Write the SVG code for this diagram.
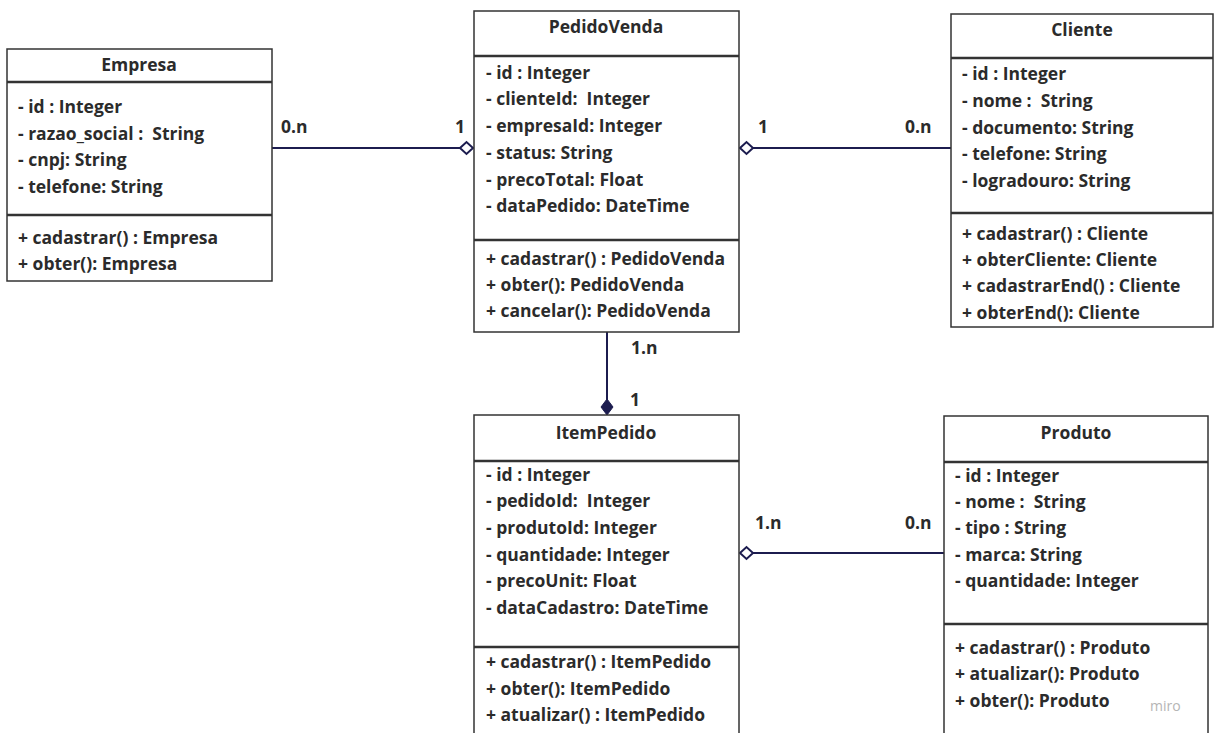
<svg xmlns="http://www.w3.org/2000/svg" width="1215" height="733" viewBox="0 0 1215 733">
<style>
.box{fill:#fff;stroke:#333;stroke-width:1.5}
.div{stroke:#333;stroke-width:2.5}
.t{font-family:"Open Sans","Liberation Sans",sans-serif;font-weight:700;font-size:17.5px;fill:#2b2b2b;white-space:pre}
.title{text-anchor:middle}
.conn{stroke:#1c1c4f;stroke-width:2;fill:none}
.hd{fill:#fff;stroke:#1c1c4f;stroke-width:2}
.fd{fill:#1c1c4f;stroke:#1c1c4f;stroke-width:1}
</style>
<rect width="1215" height="733" fill="#fff"/>
<g id="connectors">
<line class="conn" x1="272" y1="148" x2="460" y2="148"/>
<path class="hd" d="M460 148 L466.5 142 L473 148 L466.5 154 Z"/>
<line class="conn" x1="753" y1="148" x2="951" y2="148"/>
<path class="hd" d="M740 148 L746.5 142 L753 148 L746.5 154 Z"/>
<line class="conn" x1="607" y1="332" x2="607" y2="400"/>
<path class="fd" d="M607 399 L613 407 L607 415 L601 407 Z"/>
<line class="conn" x1="753" y1="553" x2="944" y2="553"/>
<path class="hd" d="M740 553 L746.5 547 L753 553 L746.5 559 Z"/>
<text class="t" x="281" y="133">0.n</text>
<text class="t" x="455" y="133">1</text>
<text class="t" x="758" y="133">1</text>
<text class="t" x="905" y="133">0.n</text>
<text class="t" x="631" y="354">1.n</text>
<text class="t" x="630" y="406">1</text>
<text class="t" x="755" y="529">1.n</text>
<text class="t" x="905" y="529">0.n</text>
</g>
<g id="Empresa">
<rect class="box" x="7" y="49" width="265" height="232"/>
<line class="div" x1="7" y1="82" x2="272" y2="82"/>
<line class="div" x1="7" y1="215" x2="272" y2="215"/>
<text class="t title" x="139" y="71">Empresa</text>
<text class="t" x="18" y="113">- id : Integer</text>
<text class="t" x="18" y="140">- razao_social :  String</text>
<text class="t" x="18" y="166">- cnpj: String</text>
<text class="t" x="18" y="193">- telefone: String</text>
<text class="t" x="18" y="244">+ cadastrar() : Empresa</text>
<text class="t" x="18" y="270">+ obter(): Empresa</text>
</g>
<g id="PedidoVenda">
<rect class="box" x="474" y="11" width="265" height="321"/>
<line class="div" x1="474" y1="56" x2="739" y2="56"/>
<line class="div" x1="474" y1="240" x2="739" y2="240"/>
<text class="t title" x="606" y="33">PedidoVenda</text>
<text class="t" x="486" y="79">- id : Integer</text>
<text class="t" x="486" y="105">- clienteId:  Integer</text>
<text class="t" x="486" y="132">- empresaId: Integer</text>
<text class="t" x="486" y="159">- status: String</text>
<text class="t" x="486" y="186">- precoTotal: Float</text>
<text class="t" x="486" y="212">- dataPedido: DateTime</text>
<text class="t" x="486" y="265">+ cadastrar() : PedidoVenda</text>
<text class="t" x="486" y="291">+ obter(): PedidoVenda</text>
<text class="t" x="486" y="317">+ cancelar(): PedidoVenda</text>
</g>
<g id="Cliente">
<rect class="box" x="951" y="14" width="262" height="313"/>
<line class="div" x1="951" y1="58" x2="1213" y2="58"/>
<line class="div" x1="951" y1="213" x2="1213" y2="213"/>
<text class="t title" x="1082" y="36">Cliente</text>
<text class="t" x="962" y="80">- id : Integer</text>
<text class="t" x="962" y="107">- nome :  String</text>
<text class="t" x="962" y="134">- documento: String</text>
<text class="t" x="962" y="160">- telefone: String</text>
<text class="t" x="962" y="187">- logradouro: String</text>
<text class="t" x="962" y="240">+ cadastrar() : Cliente</text>
<text class="t" x="962" y="266">+ obterCliente: Cliente</text>
<text class="t" x="962" y="292">+ cadastrarEnd() : Cliente</text>
<text class="t" x="962" y="319">+ obterEnd(): Cliente</text>
</g>
<g id="ItemPedido">
<rect class="box" x="474" y="415" width="265" height="330"/>
<line class="div" x1="474" y1="461" x2="739" y2="461"/>
<line class="div" x1="474" y1="647" x2="739" y2="647"/>
<text class="t title" x="606" y="439">ItemPedido</text>
<text class="t" x="486" y="481">- id : Integer</text>
<text class="t" x="486" y="507">- pedidoId:  Integer</text>
<text class="t" x="486" y="534">- produtoId: Integer</text>
<text class="t" x="486" y="561">- quantidade: Integer</text>
<text class="t" x="486" y="587">- precoUnit: Float</text>
<text class="t" x="486" y="614">- dataCadastro: DateTime</text>
<text class="t" x="486" y="668">+ cadastrar() : ItemPedido</text>
<text class="t" x="486" y="695">+ obter(): ItemPedido</text>
<text class="t" x="486" y="721">+ atualizar() : ItemPedido</text>
</g>
<g id="Produto">
<rect class="box" x="944" y="416" width="264" height="330"/>
<line class="div" x1="944" y1="462" x2="1208" y2="462"/>
<line class="div" x1="944" y1="624" x2="1208" y2="624"/>
<text class="t title" x="1076" y="439">Produto</text>
<text class="t" x="955" y="482">- id : Integer</text>
<text class="t" x="955" y="508">- nome :  String</text>
<text class="t" x="955" y="534">- tipo : String</text>
<text class="t" x="955" y="561">- marca: String</text>
<text class="t" x="955" y="587">- quantidade: Integer</text>
<text class="t" x="955" y="654">+ cadastrar() : Produto</text>
<text class="t" x="955" y="680">+ atualizar(): Produto</text>
<text class="t" x="955" y="707">+ obter(): Produto</text>
</g>
<text x="1150" y="711" font-family="'Open Sans','Liberation Sans',sans-serif" font-size="14" fill="#b5b5b5">miro</text>
</svg>
